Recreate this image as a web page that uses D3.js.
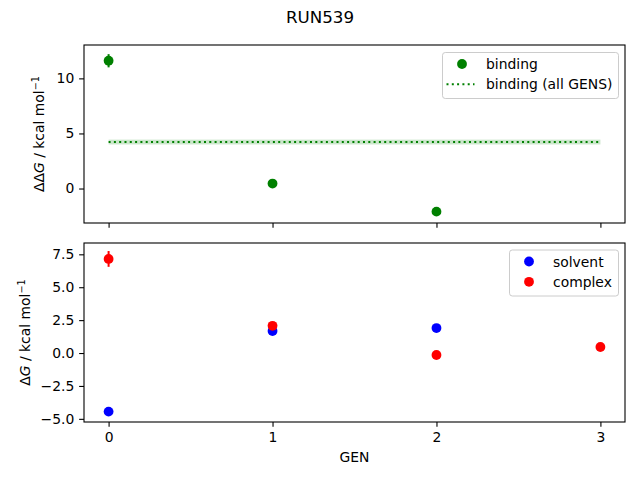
<!DOCTYPE html>
<html>
<head>
<meta charset="utf-8">
<script src="https://cdn.jsdelivr.net/npm/d3@7"></script>
<style>
  body { margin: 0; background: #fff; }
  svg { font-family: "DejaVu Sans", sans-serif; }
</style>
</head>
<body>
<div id="chart"></div>
<script>
// values
const title = "RUN539";
const gens = [0, 1, 2, 3];

const bindingGen = [0, 1, 2];
const bindingVal = [11.6, 0.45, -2.1];
const bindingErr = [0.6, 0.12, 0.15];
const bindingAll = 4.22;
const bindingAllErr = 0.22;

const solventGen = [0, 1, 2];
const solventVal = [-4.45, 1.67, 1.9];
const solventErr = [0.1, 0.1, 0.1];

const complexGen = [0, 1, 2, 3];
const complexVal = [7.15, 2.07, -0.15, 0.46];
const complexErr = [0.6, 0.12, 0.1, 0.1];

const topTicks = [0, 5, 10];
const bottomTicks = [-5, -2.5, 0, 2.5, 5, 7.5];

const W = 640, H = 480;
const left = 84, right = 625;
const topPanel = { y0: 45, y1: 223 };
const botPanel = { y0: 243, y1: 422 };
const tickLen = 4.86, fs = 13.9;
const markR = 4.9;

const svg = d3.select("#chart")
  .append("svg")
  .attr("width", W)
  .attr("height", H);

const x = d3.scaleLinear()
  .domain([-0.15, 3.15])
  .range([left, right]);

const yTop = d3.scaleLinear()
  .domain([-3.13, 13.03])
  .range([topPanel.y1, topPanel.y0]);

const yBot = d3.scaleLinear()
  .domain([-5.24, 8.36])
  .range([botPanel.y1, botPanel.y0]);

const fmtMinus = s => s.replace("-", "\u2212");

function drawAxes(y, panel, ticks, fmt, showX) {
  const g = svg.append("g");

  g.append("g")
    .attr("transform", `translate(${left},0)`)
    .call(d3.axisLeft(y).tickValues(ticks).tickSize(tickLen).tickPadding(4.86)
      .tickFormat(d => fmtMinus(fmt(d))))
    .call(a => a.select(".domain").remove())
    .call(a => a.selectAll("line").attr("stroke", "#000").attr("stroke-width", 1.1))
    .call(a => a.selectAll("text").attr("fill", "#000").style("font-size", fs + "px")
      .style("font-family", "DejaVu Sans"));

  g.append("g")
    .attr("transform", `translate(0,${panel.y1})`)
    .call(d3.axisBottom(x).tickValues(gens).tickSize(tickLen).tickPadding(4.86)
      .tickFormat(showX ? d3.format("d") : ""))
    .call(a => a.select(".domain").remove())
    .call(a => a.selectAll("line").attr("stroke", "#000").attr("stroke-width", 1.1))
    .call(a => a.selectAll("text").attr("fill", "#000").style("font-size", fs + "px")
      .style("font-family", "DejaVu Sans"));

  return g;
}

function drawFrame(panel) {
  svg.append("rect")
    .attr("x", left)
    .attr("y", panel.y0)
    .attr("width", right - left)
    .attr("height", panel.y1 - panel.y0)
    .attr("fill", "none")
    .attr("stroke", "#000")
    .attr("stroke-width", 1.1);
}

function drawSeries(g, y, gensArr, vals, errs, color) {
  g.selectAll(null)
    .data(gensArr)
    .enter()
    .append("line")
    .attr("x1", d => x(d))
    .attr("x2", d => x(d))
    .attr("y1", (d, i) => y(vals[i] - errs[i]))
    .attr("y2", (d, i) => y(vals[i] + errs[i]))
    .attr("stroke", color)
    .attr("stroke-width", 2);

  g.selectAll(null)
    .data(gensArr)
    .enter()
    .append("circle")
    .attr("cx", d => x(d))
    .attr("cy", (d, i) => y(vals[i]))
    .attr("r", markR)
    .attr("fill", color);
}

function yLabel(cx, cy, prefix) {
  const t = svg.append("text")
    .attr("transform", `translate(${cx},${cy}) rotate(-90)`)
    .attr("text-anchor", "middle")
    .style("font-size", fs + "px")
    .attr("fill", "#000");
  t.append("tspan").text(prefix);
  t.append("tspan").style("font-style", "italic").text("G");
  t.append("tspan").text(" / kcal mol");
  t.append("tspan").attr("dy", -5).style("font-size", "9.7px").text("\u22121");
}

function legend(x0, y0, w, h, items) {
  const lg = svg.append("g");
  lg.append("rect")
    .attr("x", x0).attr("y", y0)
    .attr("width", w).attr("height", h)
    .attr("rx", 2.8)
    .attr("fill", "#fff").attr("fill-opacity", 0.8)
    .attr("stroke", "#cccccc").attr("stroke-width", 1);
  items.forEach((it, i) => {
    const cy = y0 + 11.5 + i * 20.3;
    if (it.type === "dot") {
      lg.append("circle")
        .attr("cx", x0 + 19.5).attr("cy", cy)
        .attr("r", markR).attr("fill", it.color);
    } else {
      lg.append("line")
        .attr("x1", x0 + 4).attr("x2", x0 + 32)
        .attr("y1", cy).attr("y2", cy)
        .attr("stroke", it.color).attr("stroke-width", 2)
        .attr("stroke-dasharray", "2,3.3");
    }
    lg.append("text")
      .attr("x", x0 + 43.5).attr("y", cy + 5)
      .style("font-size", fs + "px")
      .attr("fill", "#000")
      .text(it.label);
  });
}

// title
svg.append("text")
  .attr("x", W / 2)
  .attr("y", 22.5)
  .attr("text-anchor", "middle")
  .style("font-size", "16.7px")
  .attr("fill", "#000")
  .text(title);

// top panel
const gTop = drawAxes(yTop, topPanel, topTicks, d3.format("d"), false);

gTop.append("rect")
  .attr("x", x(gens[0]))
  .attr("width", x(gens[gens.length - 1]) - x(gens[0]))
  .attr("y", yTop(bindingAll + bindingAllErr))
  .attr("height", yTop(bindingAll - bindingAllErr) - yTop(bindingAll + bindingAllErr))
  .attr("fill", "#008000")
  .attr("fill-opacity", 0.2);

gTop.append("line")
  .attr("x1", x(gens[0]))
  .attr("x2", x(gens[gens.length - 1]))
  .attr("y1", yTop(bindingAll))
  .attr("y2", yTop(bindingAll))
  .attr("stroke", "#008000")
  .attr("stroke-width", 2)
  .attr("stroke-dasharray", "2,3.3");

drawSeries(gTop, yTop, bindingGen, bindingVal, bindingErr, "#008000");
drawFrame(topPanel);

yLabel(44, (topPanel.y0 + topPanel.y1) / 2, "\u0394\u0394");

legend(442.5, 52.5, 176, 46, [
  { type: "dot", color: "#008000", label: "binding" },
  { type: "line", color: "#008000", label: "binding (all GENS)" }
]);

// bottom panel
const gBot = drawAxes(yBot, botPanel, bottomTicks, d3.format(".1f"), true);
drawSeries(gBot, yBot, solventGen, solventVal, solventErr, "#0000ff");
drawSeries(gBot, yBot, complexGen, complexVal, complexErr, "#ff0000");
drawFrame(botPanel);

yLabel(29.5, (botPanel.y0 + botPanel.y1) / 2, "\u0394");

legend(509.5, 250, 109, 46, [
  { type: "dot", color: "#0000ff", label: "solvent" },
  { type: "dot", color: "#ff0000", label: "complex" }
]);

// x label
svg.append("text")
  .attr("x", (left + right) / 2)
  .attr("y", 461.5)
  .attr("text-anchor", "middle")
  .style("font-size", fs + "px")
  .attr("fill", "#000")
  .text("GEN");
</script>
</body>
</html>
